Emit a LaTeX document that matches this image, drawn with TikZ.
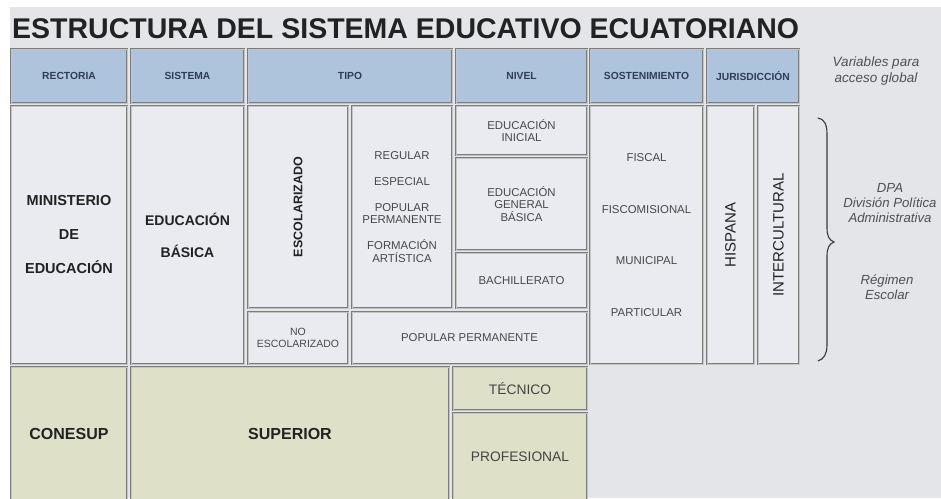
\documentclass[tikz,border=0pt]{standalone}
\usepackage{fontspec}
\setmainfont{Liberation Sans}
\definecolor{bgc}{HTML}{E4E5E9}
\definecolor{hdrc}{HTML}{AEC4DC}
\definecolor{hdrt}{HTML}{2F3E55}
\definecolor{bodyc}{HTML}{E9EBF0}
\definecolor{grnc}{HTML}{DEE1C8}
\definecolor{bord}{HTML}{7C7C7C}
\definecolor{bordin}{HTML}{C4C4C4}
\definecolor{darkt}{HTML}{222222}
\definecolor{grayt}{HTML}{484848}
\definecolor{notet}{HTML}{505050}
\newcommand\rbox[7]{\node[#6, minimum width={#4-#2}, minimum height={#5-#3}] (#1) at ({(#2+#4)/2},{(#3+#5)/2}) {#7};}
\newcommand\rotbox[7]{\node[#6, rotate=90, minimum width={#5-#3}, minimum height={#4-#2}] (#1) at ({(#2+#4)/2},{(#3+#5)/2}) {#7};}
\tikzset{
  boxbase/.style={draw=bord, line width=0.6pt, double=bordin, double distance=0.7pt, inner sep=0pt, align=center},
  hdr/.style={boxbase, fill=hdrc, text=hdrt, font={\bfseries\fontsize{10.3}{12}\selectfont}},
  body/.style={boxbase, fill=bodyc},
  grn/.style={boxbase, fill=grnc, text=darkt},
  listt/.style={text=grayt, font={\fontsize{11.4}{12.5}\selectfont}},
  note/.style={text=notet, align=center, inner sep=0pt},
}
\begin{document}
\begin{tikzpicture}[x=1pt,y=-1pt]
\useasboundingbox (0,0) rectangle (941,498);
\fill[white] (0,0) rectangle (941,498);
\fill[bgc] (10,7) rectangle (941,498);
% title
\node[anchor=base west, inner sep=0pt, text=darkt, font={\bfseries\fontsize{28.5}{30}\selectfont}] (title) at (12,38) {ESTRUCTURA DEL SISTEMA EDUCATIVO ECUATORIANO};
% header row
\rbox{hrec}{11}{49}{127}{103}{hdr}{RECTORIA}
\rbox{hsis}{131}{49}{244}{103}{hdr}{SISTEMA}
\rbox{htip}{248}{49}{452}{103}{hdr}{TIPO}
\rbox{hniv}{456}{49}{587}{103}{hdr}{NIVEL}
\rbox{hsos}{590}{49}{703}{103}{hdr}{SOSTENIMIENTO}
\rbox{hjur}{707}{49}{799}{103}{hdr}{JURISDICCIÓN}
% body
\rbox{min}{11}{106}{127}{364}{body, text=darkt, font={\bfseries\fontsize{14.5}{34}\selectfont}}{MINISTERIO\\DE\\EDUCACIÓN}
\rbox{eb}{131}{106}{244}{364}{body, text=darkt, font={\bfseries\fontsize{14}{32}\selectfont}}{EDUCACIÓN\\BÁSICA}
\rotbox{esc}{248}{106}{348}{308}{body, text=darkt, font={\bfseries\fontsize{12.5}{14}\selectfont}}{ESCOLARIZADO}
\rbox{reg}{352}{106}{452}{308}{body, listt}{REGULAR\\[13.5pt]ESPECIAL\\[13.5pt]POPULAR\\PERMANENTE\\[13.5pt]FORMACIÓN\\ARTÍSTICA}
\rbox{noesc}{248}{312}{348}{364}{body, text=grayt, font={\fontsize{10.5}{12}\selectfont}}{NO\\ESCOLARIZADO}
\rbox{pop}{352}{312}{587}{364}{body, listt}{POPULAR PERMANENTE}
\rbox{ini}{456}{106}{587}{155}{body, listt}{EDUCACIÓN\\INICIAL}
\rbox{egb}{456}{158}{587}{250}{body, listt}{EDUCACIÓN\\GENERAL\\BÁSICA}
\rbox{bach}{456}{253}{587}{308}{body, listt}{BACHILLERATO}
\rbox{sos}{590}{106}{703}{364}{body, text=grayt, font={\fontsize{11.4}{51.7}\selectfont}}{FISCAL\\FISCOMISIONAL\\MUNICIPAL\\PARTICULAR}
\rotbox{hisp}{707}{106}{754}{364}{body, text=darkt, font={\fontsize{15}{16}\selectfont}}{HISPANA}
\rotbox{inter}{758}{106}{799}{364}{body, text=darkt, font={\fontsize{15}{16}\selectfont}}{INTERCULTURAL}
% superior
\rbox{cone}{11}{367}{127}{500}{grn, font={\bfseries\fontsize{16}{18}\selectfont}}{CONESUP}
\rbox{sup}{131}{367}{449}{500}{grn, font={\bfseries\fontsize{16}{18}\selectfont}}{SUPERIOR}
\rbox{tec}{453}{367}{587}{410}{grn, text=darkt!85, font={\fontsize{13.8}{16}\selectfont}}{TÉCNICO}
\rbox{prof}{453}{413}{587}{500}{grn, text=darkt!85, font={\fontsize{13.8}{16}\selectfont}}{PROFESIONAL}
% notes
\node[note, font={\itshape\fontsize{13.5}{16}\selectfont}] (nvar) at (876,71.5) {Variables para\\acceso global};
\node[note, font={\itshape\fontsize{13.2}{15}\selectfont}] (ndpa) at (890,203) {DPA\\División Política\\Administrativa};
\node[note, font={\itshape\fontsize{13.2}{15}\selectfont}] (nreg) at (887,287.5) {Régimen\\Escolar};
% brace
\draw[line width=1.1pt, color=darkt!90, line cap=round] (818,118) .. controls (824,119) and (827,124) .. (827,134) -- (827,228) .. controls (827,236) and (829,240) .. (834,242) .. controls (829,244) and (827,248) .. (827,256) -- (827,345) .. controls (827,354) and (824,359) .. (818,361);
\end{tikzpicture}
\end{document}
